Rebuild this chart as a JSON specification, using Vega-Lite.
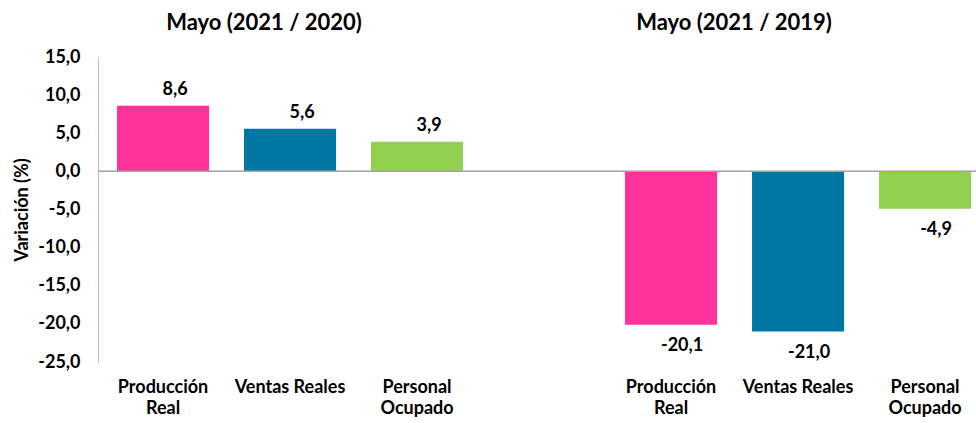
{
  "$schema": "https://vega.github.io/schema/vega-lite/v6.json",
  "autosize": "none",
  "width": 878,
  "height": 305,
  "padding": {"left": 98, "top": 57, "right": 0, "bottom": 61},
  "background": "white",
  "config": {
    "view": {"stroke": null},
    "font": "Lato",
    "locale": {"number": {"decimal": ",", "thousands": ".", "grouping": [3], "currency": ["", ""], "minus": "-"}}
  },
  "data": {
    "values": [
      {"slot": "1", "periodo": "Mayo (2021 / 2020)", "indicador": "Producción Real", "valor": 8.6},
      {"slot": "2", "periodo": "Mayo (2021 / 2020)", "indicador": "Ventas Reales", "valor": 5.6},
      {"slot": "3", "periodo": "Mayo (2021 / 2020)", "indicador": "Personal Ocupado", "valor": 3.9},
      {"slot": "4", "periodo": "Mayo (2021 / 2019)", "indicador": "Producción Real", "valor": -20.1},
      {"slot": "5", "periodo": "Mayo (2021 / 2019)", "indicador": "Ventas Reales", "valor": -21.0},
      {"slot": "6", "periodo": "Mayo (2021 / 2019)", "indicador": "Personal Ocupado", "valor": -4.9}
    ]
  },
  "encoding": {
    "x": {
      "field": "slot",
      "type": "nominal",
      "scale": {"domain": ["1", "2", "3", "gap", "4", "5", "6"], "paddingInner": 0.275, "paddingOuter": 0.0942, "align": 0.795},
      "axis": {
        "title": null,
        "domain": false,
        "ticks": false,
        "labelAngle": 0,
        "labelPadding": 16,
        "labelFontSize": 18,
        "labelFontWeight": "bold",
        "labelColor": "#000000",
        "labelLineHeight": 21,
        "labelBaseline": "top",
        "labelExpr": "datum.value == '1' || datum.value == '4' ? ['Producción', 'Real'] : (datum.value == '2' || datum.value == '5' ? 'Ventas Reales' : (datum.value == '3' || datum.value == '6' ? ['Personal', 'Ocupado'] : ''))"
      }
    },
    "y": {
      "field": "valor",
      "type": "quantitative",
      "scale": {"domain": [-25, 15], "nice": false, "zero": false},
      "axis": {
        "title": "Variación (%)",
        "titleFontSize": 18,
        "titleFontWeight": "bold",
        "titleColor": "#000000",
        "titlePadding": 6,
        "values": [-25, -20, -15, -10, -5, 0, 5, 10, 15],
        "format": ".1f",
        "grid": false,
        "ticks": false,
        "domain": true,
        "domainColor": "#bfbfbf",
        "domainWidth": 1,
        "labelPadding": 18,
        "labelFontSize": 18,
        "labelFontWeight": "bold",
        "labelColor": "#000000"
      }
    }
  },
  "layer": [
    {
      "mark": {"type": "bar"},
      "encoding": {
        "color": {
          "field": "indicador",
          "type": "nominal",
          "scale": {"domain": ["Producción Real", "Ventas Reales", "Personal Ocupado"], "range": ["#FF3399", "#0077A3", "#92D050"]},
          "legend": null
        }
      }
    },
    {
      "mark": {"type": "rule", "color": "#a6a6a6", "strokeWidth": 1},
      "encoding": {"x": null, "y": {"datum": 0}}
    },
    {
      "transform": [{"filter": "datum.valor >= 0"}],
      "mark": {"type": "text", "fontSize": 18, "fontWeight": "bold", "color": "#000000", "baseline": "alphabetic", "dy": -11, "dx": 12},
      "encoding": {"text": {"field": "valor", "type": "quantitative", "format": ".1f"}}
    },
    {
      "transform": [{"filter": "datum.valor < 0"}],
      "mark": {"type": "text", "fontSize": 18, "fontWeight": "bold", "color": "#000000", "baseline": "alphabetic", "dy": 26, "dx": 11},
      "encoding": {"text": {"field": "valor", "type": "quantitative", "format": ".1f"}}
    },
    {
      "transform": [{"filter": "datum.slot == '2'"}],
      "mark": {"type": "text", "fontSize": 22, "fontWeight": "bold", "color": "#000000", "baseline": "alphabetic", "dy": -27, "dx": -26},
      "encoding": {"y": {"datum": 15}, "text": {"field": "periodo", "type": "nominal"}}
    },
    {
      "transform": [{"filter": "datum.slot == '4'"}],
      "mark": {"type": "text", "fontSize": 22, "fontWeight": "bold", "color": "#000000", "baseline": "alphabetic", "dy": -27, "dx": 63},
      "encoding": {"y": {"datum": 15}, "text": {"field": "periodo", "type": "nominal"}}
    }
  ]
}
